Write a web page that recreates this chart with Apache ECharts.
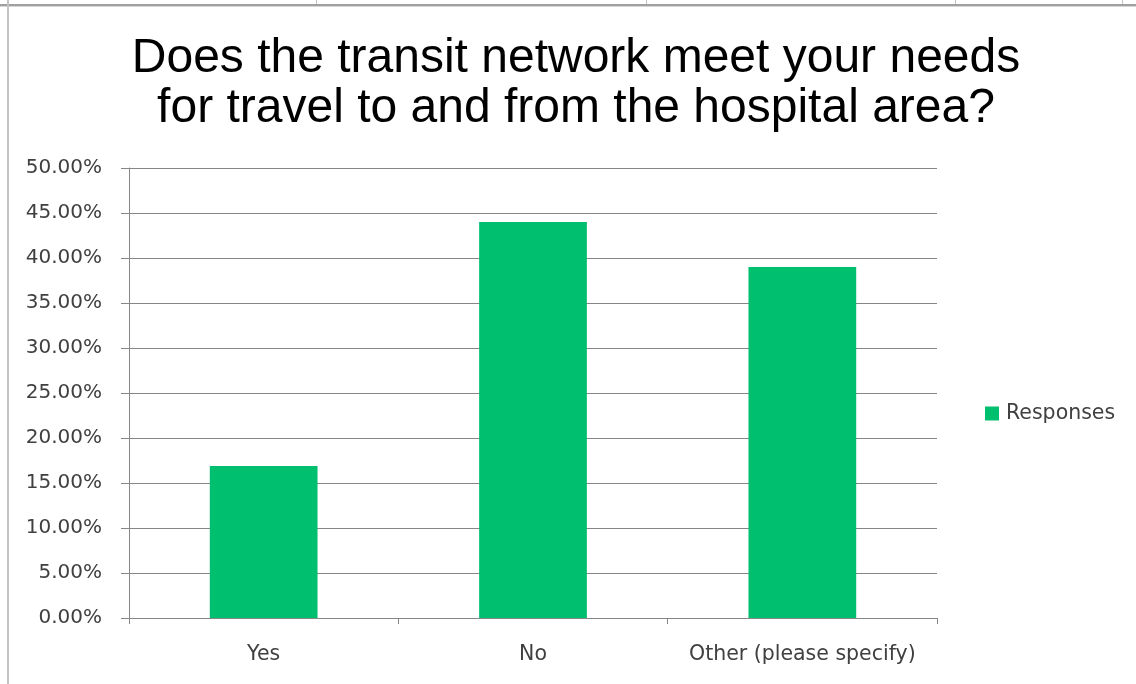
<!DOCTYPE html>
<html>
<head>
<meta charset="utf-8">
<script src="https://cdn.jsdelivr.net/npm/echarts@6/dist/echarts.min.js"></script>
<style>
html,body{margin:0;padding:0;background:#fff;}
#chart{width:1136px;height:684px;}
</style>
</head>
<body>
<div id="chart"></div>
<script>
var titleText = "Does the transit network meet your needs\nfor travel to and from the hospital area?";
var categories = ["Yes", "No", "Other (please specify)"];
var seriesName = "Responses";
var responses = [0.169, 0.440, 0.390];
var yMin = 0, yMax = 0.5, yStep = 0.05;

var chart = echarts.init(document.getElementById('chart'), null, {renderer: 'canvas'});
var labelFont = '"DejaVu Sans", sans-serif';
chart.setOption({
  animation: false,
  backgroundColor: '#ffffff',
  title: {
    text: titleText,
    left: 571,
    textAlign: 'center',
    top: 29,
    textStyle: {
      fontFamily: '"Liberation Sans", Arial, sans-serif',
      fontSize: 48,
      fontWeight: 'normal',
      color: '#000000',
      lineHeight: 50
    }
  },
  legend: {
    data: [seriesName],
    orient: 'vertical',
    left: 980,
    top: 398,
    itemWidth: 14,
    itemHeight: 14,
    icon: 'rect',
    textStyle: { fontFamily: labelFont, fontSize: 20.5, color: '#404040', padding: [0,0,0,2] }
  },
  grid: { left: 129, right: 199, top: 168, bottom: 66, containLabel: false },
  xAxis: {
    type: 'category',
    data: categories,
    axisLine: { show: true, lineStyle: { color: '#868686', width: 1 } },
    axisTick: { show: true, interval: 0, alignWithLabel: false, length: 6, lineStyle: { color: '#868686' } },
    axisLabel: { interval: 0, hideOverlap: false, fontFamily: labelFont, fontSize: 20.5, color: '#404040', margin: 26 }
  },
  yAxis: {
    type: 'value',
    min: yMin, max: yMax, interval: yStep,
    axisLine: { show: true, lineStyle: { color: '#868686', width: 1 } },
    axisTick: { show: true, inside: false, length: 8, lineStyle: { color: '#868686' } },
    splitLine: { show: true, lineStyle: { color: '#868686', width: 1 } },
    axisLabel: {
      fontFamily: labelFont, fontSize: 20, color: '#404040', margin: 27,
      formatter: function (v) { return (v * 100).toFixed(2) + '%'; }
    }
  },
  series: [{
    name: seriesName,
    type: 'bar',
    data: responses,
    barWidth: '40%',
    itemStyle: { color: '#00BF6F' }
  }],
  graphic: [
    { type: 'rect', shape: { x: 0, y: 4, width: 1136, height: 2 }, style: { fill: '#a0a0a0' }, silent: true },
    { type: 'rect', shape: { x: 0, y: 6, width: 1136, height: 1 }, style: { fill: '#d8d8d8' }, silent: true },
    { type: 'rect', shape: { x: 7, y: 0, width: 2, height: 684 }, style: { fill: '#c4c4c4' }, silent: true },
    { type: 'rect', shape: { x: 316, y: 0, width: 1, height: 4 }, style: { fill: '#c4c4c4' }, silent: true },
    { type: 'rect', shape: { x: 646, y: 0, width: 1, height: 4 }, style: { fill: '#c4c4c4' }, silent: true },
    { type: 'rect', shape: { x: 955, y: 0, width: 1, height: 4 }, style: { fill: '#c4c4c4' }, silent: true },
    { type: 'rect', shape: { x: 1122, y: 0, width: 1, height: 4 }, style: { fill: '#c4c4c4' }, silent: true }
  ]
});
</script>
</body>
</html>
